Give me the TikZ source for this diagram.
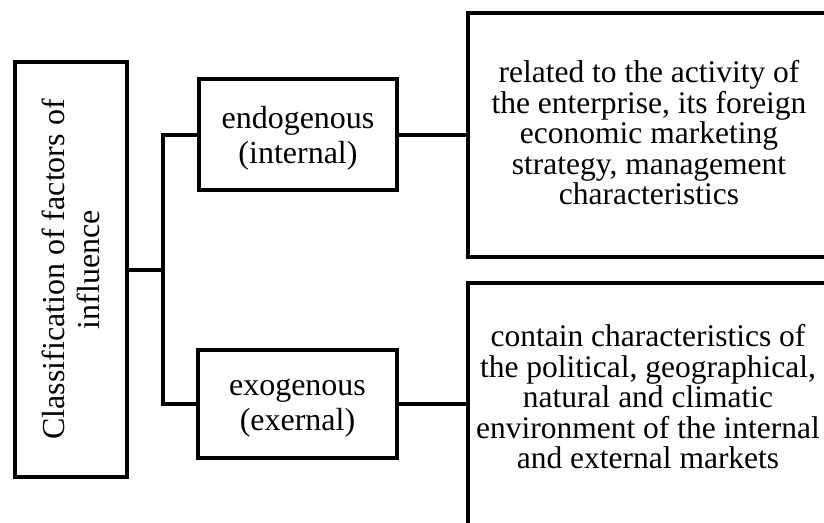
\documentclass[tikz,border=0pt]{standalone}
\usepackage{fontspec}
\setmainfont{Liberation Serif}
\begin{document}
\begin{tikzpicture}[x=1pt,y=-1pt,
  box/.style={draw=black, line width=4pt, fill=white, inner sep=0pt, outer sep=0pt, align=center},
  smalltext/.style={font=\fontsize{32}{35}\selectfont},
  bigtext/.style={font=\fontsize{31.5}{30.5}\selectfont},
  conn/.style={draw=black, line width=4pt}]
\clip (0,0) rectangle (824,522);
\fill[white] (0,0) rectangle (824,522);
% boxes
\node[box, smalltext, minimum width=415pt, minimum height=112pt, rotate=90] (cls) at (71,269.5) {Classification of factors of\\influence};
\node[box, minimum width=198pt, minimum height=111pt] (endo) at (298,134.5) {};
\node[smalltext, align=center, inner sep=0pt] (endot) at (298,138.5) {endogenous\\(internal)};
\node[box, minimum width=199pt, minimum height=108pt] (exo) at (297.5,404) {};
\node[smalltext, align=center, inner sep=0pt] (exot) at (297.5,408) {exogenous\\(exernal)};
\node[box, minimum width=364pt, minimum height=244pt] (rtop) at (650,135) {};
\node[bigtext, align=center, inner sep=0pt] (rtopt) at (649,133) {related to the activity of\\the enterprise, its foreign\\economic marketing\\strategy, management\\characteristics};
\node[box, minimum width=364pt, minimum height=244pt] (rbot) at (650,405) {};
\node[bigtext, align=center, inner sep=0pt] (rbott) at (648,397) {contain characteristics of\\the political, geographical,\\natural and climatic\\environment of the internal\\and external markets};
% connectors
\coordinate (j) at (163,269.5);
\draw[conn] (cls.south) -- (j);
\draw[conn] (endo.west) -| (j);
\draw[conn] (exo.west) -| (j);
\draw[conn] (endo.east) -- (endo.east -| rtop.west);
\draw[conn] (exo.east) -- (exo.east -| rbot.west);
\end{tikzpicture}
\end{document}
